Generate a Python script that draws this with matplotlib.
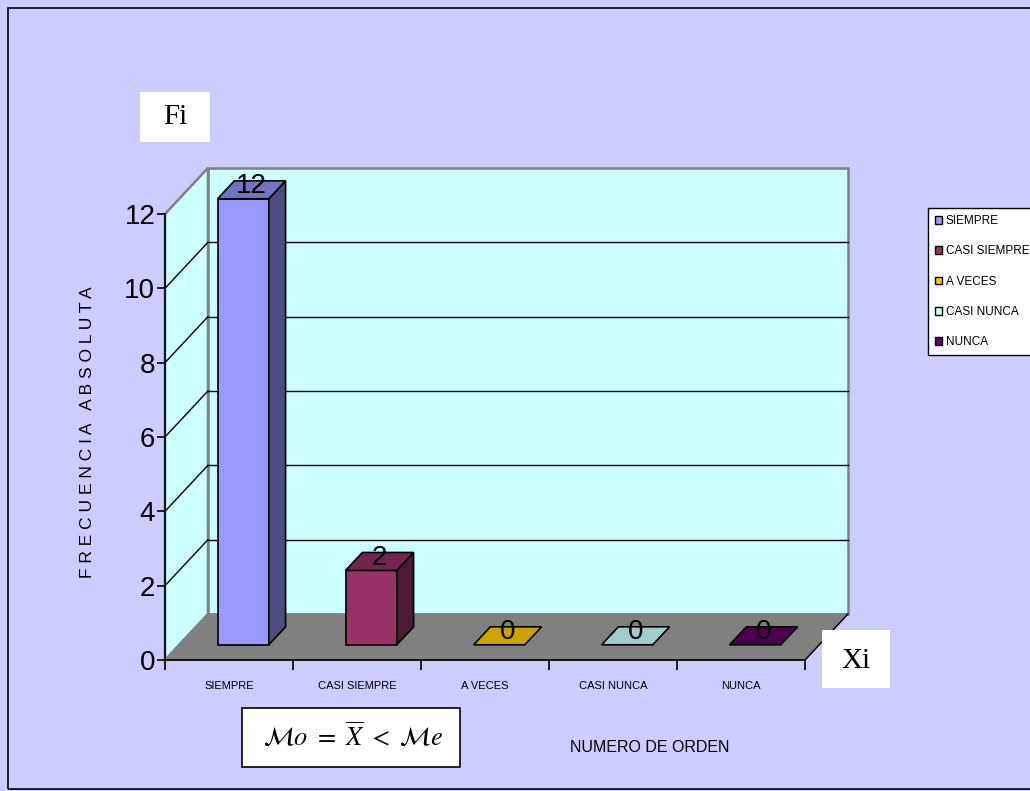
import matplotlib.pyplot as plt
from matplotlib.patches import Polygon, Rectangle, Patch
import numpy as np

categories = ['SIEMPRE', 'CASI SIEMPRE', 'A VECES', 'CASI NUNCA', 'NUNCA']
values = [12, 2, 0, 0, 0]
front_colors = ['#9999FF', '#993366', '#FFCC00', '#CCFFFF', '#660066']
side_colors = ['#4D4D80', '#4D1A33', '#806600', '#668080', '#330033']
top_colors = ['#7373BF', '#73264D', '#CCA300', '#A0CCCC', '#4D004D']
yticks = [0, 2, 4, 6, 8, 10, 12]

sans = ['Liberation Sans', 'DejaVu Sans']
plt.rcParams['mathtext.fontset'] = 'stix'

W, H = 1030, 791
fig = plt.figure(figsize=(W / 100, H / 100), dpi=100, facecolor='#CCCCFF')


def fig_box(x0, y0, x1, y1, edge='none'):
    # rectangle given in pixels from top-left
    fig.patches.append(Rectangle((x0 / W, 1 - y1 / H), (x1 - x0) / W, (y1 - y0) / H,
                                 transform=fig.transFigure, facecolor='white', edgecolor=edge, lw=1.2))


# outer border
fig.patches.append(Rectangle((8 / W, 2 / H), 1.1, 1 - 10 / H, transform=fig.transFigure,
                             fill=False, edgecolor='black', lw=1.2))

ax = fig.add_axes([165 / W, 1 - 660 / H, 640 / W, 446 / H])
ax.set_xlim(0, 5)
ax.set_ylim(0, 12)
ax.patch.set_visible(False)

DX, DY = 0.336, 1.24  # depth offset in data units
n = len(categories)
ymax = 12

# walls and floor
back = Polygon([(DX, DY), (n + DX, DY), (n + DX, ymax + DY), (DX, ymax + DY)],
               closed=True, facecolor='#CCFFFF', edgecolor='#808080', lw=1.8, clip_on=False, zorder=0)
left = Polygon([(0, 0), (DX, DY), (DX, ymax + DY), (0, ymax)],
               closed=True, facecolor='#CCFFFF', edgecolor='#808080', lw=1.8, clip_on=False, zorder=0)
floor = Polygon([(0, 0), (n, 0), (n + DX, DY), (DX, DY)],
                closed=True, facecolor='#808080', edgecolor='#808080', lw=1, clip_on=False, zorder=1)
for p in (back, left, floor):
    ax.add_patch(p)
ax.plot([n, n + DX], [0, DY], color='black', lw=1, clip_on=False, zorder=2)

for t in yticks[1:-1]:
    ax.plot([DX, n + DX], [t + DY, t + DY], color='black', lw=1, clip_on=False, zorder=0.5)
    ax.plot([0, DX], [t, t + DY], color='black', lw=1, clip_on=False, zorder=0.5)

# bars
w = 0.4
d0, d1 = 0.33, 0.72
for i, (v, fc, sc, tc) in enumerate(zip(values, front_colors, side_colors, top_colors)):
    xc = i + 0.5
    x0 = xc - w / 2 + d0 * DX
    x1 = xc + w / 2 + d0 * DX
    yb = d0 * DY
    ox, oy = (d1 - d0) * DX, (d1 - d0) * DY
    if v > 0:
        ax.add_patch(Polygon([(x0, yb), (x1, yb), (x1, yb + v), (x0, yb + v)], closed=True,
                             facecolor=fc, edgecolor='black', lw=1.2, clip_on=False, zorder=3))
        ax.add_patch(Polygon([(x1, yb), (x1 + ox, yb + oy), (x1 + ox, yb + v + oy), (x1, yb + v)],
                             closed=True, facecolor=sc, edgecolor='black', lw=1.2, clip_on=False, zorder=3))
    ax.add_patch(Polygon([(x0, yb + v), (x1, yb + v), (x1 + ox, yb + v + oy), (x0 + ox, yb + v + oy)],
                         closed=True, facecolor=tc, edgecolor='black', lw=1.2, clip_on=False, zorder=3))
    dm = (d0 + d1) / 2
    ax.text(xc + dm * DX, v + dm * DY + 0.1, str(v), ha='center', va='center',
            fontsize=20, family=sans, zorder=4)

# axes styling
for s in ('top', 'right'):
    ax.spines[s].set_visible(False)
ax.spines['left'].set_linewidth(1.2)
ax.spines['bottom'].set_linewidth(1.2)
ax.spines['left'].set_zorder(2)
ax.spines['bottom'].set_zorder(2)
ax.set_yticks(yticks)
ax.set_yticklabels([str(t) for t in yticks], fontsize=20, family=sans)
ax.set_xticks(np.arange(n + 1))
ax.set_xticklabels([])
ax.set_xticks(np.arange(n) + 0.5, minor=True)
ax.set_xticklabels(categories, minor=True, fontsize=8, family=sans)
ax.tick_params(axis='x', which='minor', length=0, pad=15)
ax.tick_params(axis='x', which='major', length=7, width=1.2, direction='out')
ax.tick_params(axis='y', length=6, width=1.2, direction='out', pad=1)

ylab = '   '.join(' '.join(word) for word in 'FRECUENCIA ABSOLUTA'.split())
fig.text(88 / W, 1 - 432 / H, ylab, rotation=90, ha='center', va='center', fontsize=12.5, family=sans)

# text boxes
fig_box(140, 92, 210, 142)
fig.text(175 / W, 1 - 117 / H, 'Fi', ha='center', va='center', fontsize=21, family='Liberation Serif')
fig_box(822, 630, 890, 688)
fig.text(856 / W, 1 - 661 / H, 'Xi', ha='center', va='center', fontsize=21, family='Liberation Serif')
fig_box(242, 708, 460, 767, edge='black')
fig.text(353 / W, 1 - 737 / H, r'$\mathcal{M}o\ =\ \overline{X}\ <\ \mathcal{M}e$', ha='center', va='center',
         fontsize=19)
fig.text(650 / W, 1 - 748 / H, 'NUMERO DE ORDEN', ha='center', va='center', fontsize=11.5, family=sans)

# legend
handles = [Patch(facecolor=c, edgecolor='black', lw=1) for c in front_colors]
fig.legend(handles, categories, loc='upper left', bbox_to_anchor=(928 / W, 1 - 208 / H),
           prop={'family': sans, 'size': 8.5}, frameon=True, fancybox=False,
           edgecolor='black', facecolor='white', framealpha=1, handlelength=0.6, handleheight=0.6,
           handletextpad=0.3, labelspacing=1.55, borderpad=0.6, borderaxespad=0)

fig.savefig('out.png', dpi=100, facecolor=fig.get_facecolor())
